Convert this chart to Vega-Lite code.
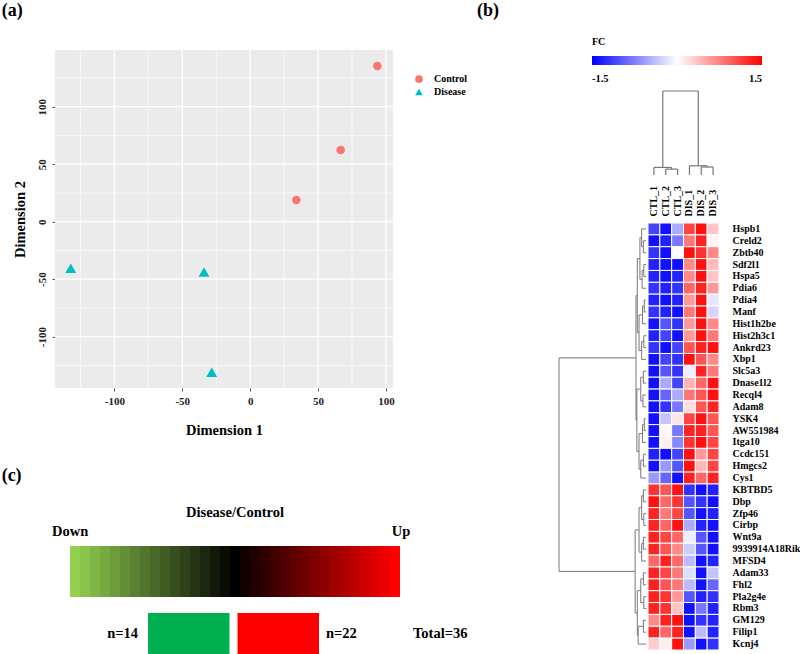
{
"$schema": "https://vega.github.io/schema/vega-lite/v6.json",
"width": 800, "height": 654, "autosize": {"type": "none"}, "padding": 0,
"background": "white",
"config": {"view": {"stroke": null}, "font": "Liberation Serif", "text": {"font": "Liberation Serif", "fontWeight": "bold", "color": "black"}},
"resolve": {"scale": {"x": "independent", "y": "independent", "color": "independent", "shape": "independent"}, "axis": {"x": "independent", "y": "independent"}, "legend": {"color": "independent", "shape": "independent"}},
"layer": [
{
 "layer": [
  {"data": {"values": [{}]}, "mark": {"type": "rect", "color": "#EBEBEB"},
   "encoding": {"x": {"datum": -143.7, "type": "quantitative", "scale": {"domain": [-143.7, 105.2], "range": [55, 393], "nice": false, "zero": false}}, "x2": {"datum": 105.2},
                "y": {"datum": -144.6, "type": "quantitative", "scale": {"domain": [-144.6, 149.3], "range": [388, 50], "nice": false, "zero": false}}, "y2": {"datum": 149.3}}},
  {"data": {"values": [{"v": -125}, {"v": -75}, {"v": -25}, {"v": 25}, {"v": 75}]}, "mark": {"type": "rule", "color": "white", "strokeWidth": 0.6},
   "encoding": {"x": {"field": "v", "type": "quantitative", "scale": {"domain": [-143.7, 105.2], "range": [55, 393], "nice": false, "zero": false}},
                "y": {"datum": -144.6, "type": "quantitative", "scale": {"domain": [-144.6, 149.3], "range": [388, 50], "nice": false, "zero": false}}, "y2": {"datum": 149.3}}},
  {"data": {"values": [{"v": -125}, {"v": -75}, {"v": -25}, {"v": 25}, {"v": 75}, {"v": 125}]}, "mark": {"type": "rule", "color": "white", "strokeWidth": 0.6},
   "encoding": {"y": {"field": "v", "type": "quantitative", "scale": {"domain": [-144.6, 149.3], "range": [388, 50], "nice": false, "zero": false}},
                "x": {"datum": -143.7, "type": "quantitative", "scale": {"domain": [-143.7, 105.2], "range": [55, 393], "nice": false, "zero": false}}, "x2": {"datum": 105.2}}},
  {"data": {"values": [{"v": -100}, {"v": -50}, {"v": 0}, {"v": 50}, {"v": 100}]}, "mark": {"type": "rule", "color": "white", "strokeWidth": 1.3},
   "encoding": {"x": {"field": "v", "type": "quantitative", "scale": {"domain": [-143.7, 105.2], "range": [55, 393], "nice": false, "zero": false}},
                "y": {"datum": -144.6, "type": "quantitative", "scale": {"domain": [-144.6, 149.3], "range": [388, 50], "nice": false, "zero": false}}, "y2": {"datum": 149.3}}},
  {"data": {"values": [{"v": -100}, {"v": -50}, {"v": 0}, {"v": 50}, {"v": 100}]}, "mark": {"type": "rule", "color": "white", "strokeWidth": 1.3},
   "encoding": {"y": {"field": "v", "type": "quantitative", "scale": {"domain": [-144.6, 149.3], "range": [388, 50], "nice": false, "zero": false}},
                "x": {"datum": -143.7, "type": "quantitative", "scale": {"domain": [-143.7, 105.2], "range": [55, 393], "nice": false, "zero": false}}, "x2": {"datum": 105.2}}},
  {"data": {"values": [{"group": "Control", "d1": 93.7, "d2": 135.4}, {"group": "Control", "d1": 66.7, "d2": 62.3}, {"group": "Control", "d1": 34, "d2": 18.9}, {"group": "Disease", "d1": -132.1, "d2": -40.5}, {"group": "Disease", "d1": -34, "d2": -43.7}, {"group": "Disease", "d1": -28.3, "d2": -131}]},
   "transform": [{"filter": "datum.group === 'Control'"}],
   "mark": {"type": "point", "filled": true, "opacity": 1, "size": 72},
   "encoding": {
    "x": {"field": "d1", "type": "quantitative", "scale": {"domain": [-143.7, 105.2], "range": [55, 393], "nice": false, "zero": false},
          "axis": {"orient": "bottom", "offset": -266, "values": [-100, -50, 0, 50, 100], "grid": false, "domain": false, "ticks": true, "tickSize": 3, "tickColor": "#555", "labelExpr": "(datum.value < 0 ? '-' : '') + abs(datum.value)", "labelFont": "Liberation Serif", "labelFontWeight": "bold", "labelFontSize": 11, "labelColor": "#222", "labelPadding": 4, "title": "Dimension 1", "titleFont": "Liberation Serif", "titleFontWeight": "bold", "titleFontSize": 14.5, "titleColor": "black", "titlePadding": 17}},
    "y": {"field": "d2", "type": "quantitative", "scale": {"domain": [-144.6, 149.3], "range": [388, 50], "nice": false, "zero": false},
          "axis": {"orient": "left", "offset": -55, "values": [-100, -50, 0, 50, 100], "grid": false, "domain": false, "ticks": true, "tickSize": 3, "tickColor": "#555", "labelExpr": "(datum.value < 0 ? '-' : '') + abs(datum.value)", "labelAngle": -90, "labelAlign": "center", "labelBaseline": "bottom", "labelFont": "Liberation Serif", "labelFontWeight": "bold", "labelFontSize": 11, "labelColor": "#222", "labelPadding": 5, "title": "Dimension 2", "titleFont": "Liberation Serif", "titleFontWeight": "bold", "titleFontSize": 14.5, "titleColor": "black", "titlePadding": 9}},
    "color": {"field": "group", "type": "nominal", "scale": {"domain": ["Control", "Disease"], "range": ["#F8766D", "#00BFC4"]},
              "legend": {"orient": "none", "legendX": 414, "legendY": 74, "title": null, "labelFont": "Liberation Serif", "labelFontWeight": "bold", "labelFontSize": 10, "labelColor": "black", "symbolSize": 60, "rowPadding": 3, "labelOffset": 10, "padding": 0}},
    "shape": {"field": "group", "type": "nominal", "scale": {"domain": ["Control", "Disease"], "range": ["circle", "triangle-up"]}}
   }},
  {"data": {"values": [{"group": "Control", "d1": 93.7, "d2": 135.4}, {"group": "Control", "d1": 66.7, "d2": 62.3}, {"group": "Control", "d1": 34, "d2": 18.9}, {"group": "Disease", "d1": -132.1, "d2": -40.5}, {"group": "Disease", "d1": -34, "d2": -43.7}, {"group": "Disease", "d1": -28.3, "d2": -131}]},
   "transform": [{"filter": "datum.group === 'Disease'"}],
   "mark": {"type": "point", "filled": true, "opacity": 1, "size": 120},
   "encoding": {
    "x": {"field": "d1", "type": "quantitative", "scale": {"domain": [-143.7, 105.2], "range": [55, 393], "nice": false, "zero": false}},
    "y": {"field": "d2", "type": "quantitative", "scale": {"domain": [-144.6, 149.3], "range": [388, 50], "nice": false, "zero": false}},
    "color": {"field": "group", "type": "nominal", "scale": {"domain": ["Control", "Disease"], "range": ["#F8766D", "#00BFC4"]}},
    "shape": {"field": "group", "type": "nominal", "scale": {"domain": ["Control", "Disease"], "range": ["circle", "triangle-up"]}}
   }},
  {"data": {"values": [{}]}, "mark": {"type": "text", "text": "(a)", "fontSize": 18, "align": "left", "baseline": "middle"},
   "encoding": {"x": {"datum": -183, "type": "quantitative", "scale": {"domain": [-143.7, 105.2], "range": [55, 393], "nice": false, "zero": false}},
                "y": {"datum": 183, "type": "quantitative", "scale": {"domain": [-144.6, 149.3], "range": [388, 50], "nice": false, "zero": false}}}},
  {"data": {"values": [{}]}, "mark": {"type": "text", "text": "(b)", "fontSize": 18, "align": "left", "baseline": "middle"},
   "encoding": {"x": {"datum": 167, "type": "quantitative", "scale": {"domain": [-143.7, 105.2], "range": [55, 393], "nice": false, "zero": false}},
                "y": {"datum": 183, "type": "quantitative", "scale": {"domain": [-144.6, 149.3], "range": [388, 50], "nice": false, "zero": false}}}},
  {"data": {"values": [{}]}, "mark": {"type": "text", "text": "(c)", "fontSize": 18, "align": "left", "baseline": "middle"},
   "encoding": {"x": {"datum": -183, "type": "quantitative", "scale": {"domain": [-143.7, 105.2], "range": [55, 393], "nice": false, "zero": false}},
                "y": {"datum": -221, "type": "quantitative", "scale": {"domain": [-144.6, 149.3], "range": [388, 50], "nice": false, "zero": false}}}}
 ]
},
{
 "data": {"values": [
{"g":"Hspb1","s":"CTL_1","v":-1.1},{"g":"Hspb1","s":"CTL_2","v":-1.4},{"g":"Hspb1","s":"CTL_3","v":-0.5},{"g":"Hspb1","s":"DIS_1","v":1.1},{"g":"Hspb1","s":"DIS_2","v":1.4},{"g":"Hspb1","s":"DIS_3","v":0.35},
{"g":"Creld2","s":"CTL_1","v":-1.4},{"g":"Creld2","s":"CTL_2","v":-1.3},{"g":"Creld2","s":"CTL_3","v":-0.8},{"g":"Creld2","s":"DIS_1","v":0.8},{"g":"Creld2","s":"DIS_2","v":1.3},{"g":"Creld2","s":"DIS_3","v":0.05},
{"g":"Zbtb40","s":"CTL_1","v":-1.2},{"g":"Zbtb40","s":"CTL_2","v":-1.4},{"g":"Zbtb40","s":"CTL_3","v":0.0},{"g":"Zbtb40","s":"DIS_1","v":1.4},{"g":"Zbtb40","s":"DIS_2","v":1.2},{"g":"Zbtb40","s":"DIS_3","v":0.7},
{"g":"Sdf2l1","s":"CTL_1","v":-1.3},{"g":"Sdf2l1","s":"CTL_2","v":-1.4},{"g":"Sdf2l1","s":"CTL_3","v":-1.4},{"g":"Sdf2l1","s":"DIS_1","v":0.7},{"g":"Sdf2l1","s":"DIS_2","v":1.4},{"g":"Sdf2l1","s":"DIS_3","v":0.4},
{"g":"Hspa5","s":"CTL_1","v":-1.3},{"g":"Hspa5","s":"CTL_2","v":-1.4},{"g":"Hspa5","s":"CTL_3","v":-1.3},{"g":"Hspa5","s":"DIS_1","v":0.7},{"g":"Hspa5","s":"DIS_2","v":1.4},{"g":"Hspa5","s":"DIS_3","v":0.35},
{"g":"Pdia6","s":"CTL_1","v":-1.2},{"g":"Pdia6","s":"CTL_2","v":-1.3},{"g":"Pdia6","s":"CTL_3","v":-1.2},{"g":"Pdia6","s":"DIS_1","v":0.9},{"g":"Pdia6","s":"DIS_2","v":1.3},{"g":"Pdia6","s":"DIS_3","v":0.6},
{"g":"Pdia4","s":"CTL_1","v":-1.3},{"g":"Pdia4","s":"CTL_2","v":-1.4},{"g":"Pdia4","s":"CTL_3","v":-1.3},{"g":"Pdia4","s":"DIS_1","v":0.6},{"g":"Pdia4","s":"DIS_2","v":1.4},{"g":"Pdia4","s":"DIS_3","v":-0.15},
{"g":"Manf","s":"CTL_1","v":-1.2},{"g":"Manf","s":"CTL_2","v":-1.3},{"g":"Manf","s":"CTL_3","v":-1.4},{"g":"Manf","s":"DIS_1","v":0.8},{"g":"Manf","s":"DIS_2","v":1.4},{"g":"Manf","s":"DIS_3","v":-0.25},
{"g":"Hist1h2be","s":"CTL_1","v":-1.4},{"g":"Hist1h2be","s":"CTL_2","v":-1.0},{"g":"Hist1h2be","s":"CTL_3","v":-1.2},{"g":"Hist1h2be","s":"DIS_1","v":0.6},{"g":"Hist1h2be","s":"DIS_2","v":1.4},{"g":"Hist1h2be","s":"DIS_3","v":0.7},
{"g":"Hist2h3c1","s":"CTL_1","v":-1.3},{"g":"Hist2h3c1","s":"CTL_2","v":-1.1},{"g":"Hist2h3c1","s":"CTL_3","v":-1.4},{"g":"Hist2h3c1","s":"DIS_1","v":0.6},{"g":"Hist2h3c1","s":"DIS_2","v":1.4},{"g":"Hist2h3c1","s":"DIS_3","v":0.8},
{"g":"Ankrd23","s":"CTL_1","v":-1.2},{"g":"Ankrd23","s":"CTL_2","v":-1.4},{"g":"Ankrd23","s":"CTL_3","v":-1.1},{"g":"Ankrd23","s":"DIS_1","v":1.0},{"g":"Ankrd23","s":"DIS_2","v":1.3},{"g":"Ankrd23","s":"DIS_3","v":1.4},
{"g":"Xbp1","s":"CTL_1","v":-1.4},{"g":"Xbp1","s":"CTL_2","v":-1.1},{"g":"Xbp1","s":"CTL_3","v":-1.2},{"g":"Xbp1","s":"DIS_1","v":1.4},{"g":"Xbp1","s":"DIS_2","v":1.0},{"g":"Xbp1","s":"DIS_3","v":0.7},
{"g":"Slc5a3","s":"CTL_1","v":-1.4},{"g":"Slc5a3","s":"CTL_2","v":-1.0},{"g":"Slc5a3","s":"CTL_3","v":-1.2},{"g":"Slc5a3","s":"DIS_1","v":-0.1},{"g":"Slc5a3","s":"DIS_2","v":1.3},{"g":"Slc5a3","s":"DIS_3","v":0.8},
{"g":"Dnase1l2","s":"CTL_1","v":-1.4},{"g":"Dnase1l2","s":"CTL_2","v":-0.5},{"g":"Dnase1l2","s":"CTL_3","v":-1.1},{"g":"Dnase1l2","s":"DIS_1","v":0.45},{"g":"Dnase1l2","s":"DIS_2","v":0.9},{"g":"Dnase1l2","s":"DIS_3","v":1.4},
{"g":"Recql4","s":"CTL_1","v":-1.4},{"g":"Recql4","s":"CTL_2","v":-0.9},{"g":"Recql4","s":"CTL_3","v":-0.5},{"g":"Recql4","s":"DIS_1","v":0.8},{"g":"Recql4","s":"DIS_2","v":1.0},{"g":"Recql4","s":"DIS_3","v":1.4},
{"g":"Adam8","s":"CTL_1","v":-1.4},{"g":"Adam8","s":"CTL_2","v":-1.2},{"g":"Adam8","s":"CTL_3","v":-0.8},{"g":"Adam8","s":"DIS_1","v":0.2},{"g":"Adam8","s":"DIS_2","v":1.0},{"g":"Adam8","s":"DIS_3","v":1.3},
{"g":"YSK4","s":"CTL_1","v":-1.4},{"g":"YSK4","s":"CTL_2","v":-0.35},{"g":"YSK4","s":"CTL_3","v":0.15},{"g":"YSK4","s":"DIS_1","v":1.1},{"g":"YSK4","s":"DIS_2","v":1.4},{"g":"YSK4","s":"DIS_3","v":1.0},
{"g":"AW551984","s":"CTL_1","v":-1.4},{"g":"AW551984","s":"CTL_2","v":0.05},{"g":"AW551984","s":"CTL_3","v":-0.8},{"g":"AW551984","s":"DIS_1","v":1.3},{"g":"AW551984","s":"DIS_2","v":1.3},{"g":"AW551984","s":"DIS_3","v":1.0},
{"g":"Itga10","s":"CTL_1","v":-1.4},{"g":"Itga10","s":"CTL_2","v":0.1},{"g":"Itga10","s":"CTL_3","v":-0.7},{"g":"Itga10","s":"DIS_1","v":1.2},{"g":"Itga10","s":"DIS_2","v":1.4},{"g":"Itga10","s":"DIS_3","v":1.1},
{"g":"Ccdc151","s":"CTL_1","v":-1.3},{"g":"Ccdc151","s":"CTL_2","v":-1.4},{"g":"Ccdc151","s":"CTL_3","v":-1.1},{"g":"Ccdc151","s":"DIS_1","v":1.4},{"g":"Ccdc151","s":"DIS_2","v":0.6},{"g":"Ccdc151","s":"DIS_3","v":1.1},
{"g":"Hmgcs2","s":"CTL_1","v":-1.4},{"g":"Hmgcs2","s":"CTL_2","v":-0.6},{"g":"Hmgcs2","s":"CTL_3","v":-1.0},{"g":"Hmgcs2","s":"DIS_1","v":1.4},{"g":"Hmgcs2","s":"DIS_2","v":0.4},{"g":"Hmgcs2","s":"DIS_3","v":1.1},
{"g":"Cys1","s":"CTL_1","v":-0.6},{"g":"Cys1","s":"CTL_2","v":-0.9},{"g":"Cys1","s":"CTL_3","v":-1.4},{"g":"Cys1","s":"DIS_1","v":1.3},{"g":"Cys1","s":"DIS_2","v":0.9},{"g":"Cys1","s":"DIS_3","v":1.3},
{"g":"KBTBD5","s":"CTL_1","v":1.2},{"g":"KBTBD5","s":"CTL_2","v":1.0},{"g":"KBTBD5","s":"CTL_3","v":1.4},{"g":"KBTBD5","s":"DIS_1","v":-1.2},{"g":"KBTBD5","s":"DIS_2","v":-1.4},{"g":"KBTBD5","s":"DIS_3","v":-1.3},
{"g":"Dbp","s":"CTL_1","v":1.4},{"g":"Dbp","s":"CTL_2","v":0.9},{"g":"Dbp","s":"CTL_3","v":1.2},{"g":"Dbp","s":"DIS_1","v":-1.0},{"g":"Dbp","s":"DIS_2","v":-1.2},{"g":"Dbp","s":"DIS_3","v":-1.4},
{"g":"Zfp46","s":"CTL_1","v":1.3},{"g":"Zfp46","s":"CTL_2","v":0.8},{"g":"Zfp46","s":"CTL_3","v":1.1},{"g":"Zfp46","s":"DIS_1","v":-1.0},{"g":"Zfp46","s":"DIS_2","v":-1.4},{"g":"Zfp46","s":"DIS_3","v":-1.3},
{"g":"Cirbp","s":"CTL_1","v":1.3},{"g":"Cirbp","s":"CTL_2","v":0.9},{"g":"Cirbp","s":"CTL_3","v":1.4},{"g":"Cirbp","s":"DIS_1","v":-0.5},{"g":"Cirbp","s":"DIS_2","v":-1.3},{"g":"Cirbp","s":"DIS_3","v":-1.4},
{"g":"Wnt9a","s":"CTL_1","v":1.3},{"g":"Wnt9a","s":"CTL_2","v":1.1},{"g":"Wnt9a","s":"CTL_3","v":0.9},{"g":"Wnt9a","s":"DIS_1","v":-0.1},{"g":"Wnt9a","s":"DIS_2","v":-1.0},{"g":"Wnt9a","s":"DIS_3","v":-1.4},
{"g":"9939914A18Rik","s":"CTL_1","v":1.3},{"g":"9939914A18Rik","s":"CTL_2","v":1.0},{"g":"9939914A18Rik","s":"CTL_3","v":0.7},{"g":"9939914A18Rik","s":"DIS_1","v":-0.3},{"g":"9939914A18Rik","s":"DIS_2","v":-1.0},{"g":"9939914A18Rik","s":"DIS_3","v":-1.4},
{"g":"MFSD4","s":"CTL_1","v":0.9},{"g":"MFSD4","s":"CTL_2","v":1.3},{"g":"MFSD4","s":"CTL_3","v":0.9},{"g":"MFSD4","s":"DIS_1","v":-0.4},{"g":"MFSD4","s":"DIS_2","v":-1.4},{"g":"MFSD4","s":"DIS_3","v":-1.3},
{"g":"Adam33","s":"CTL_1","v":1.3},{"g":"Adam33","s":"CTL_2","v":1.1},{"g":"Adam33","s":"CTL_3","v":0.8},{"g":"Adam33","s":"DIS_1","v":-0.2},{"g":"Adam33","s":"DIS_2","v":-1.4},{"g":"Adam33","s":"DIS_3","v":-0.35},
{"g":"Fhl2","s":"CTL_1","v":1.3},{"g":"Fhl2","s":"CTL_2","v":1.0},{"g":"Fhl2","s":"CTL_3","v":0.8},{"g":"Fhl2","s":"DIS_1","v":-0.4},{"g":"Fhl2","s":"DIS_2","v":-1.4},{"g":"Fhl2","s":"DIS_3","v":-0.9},
{"g":"Pla2g4e","s":"CTL_1","v":1.3},{"g":"Pla2g4e","s":"CTL_2","v":1.2},{"g":"Pla2g4e","s":"CTL_3","v":0.6},{"g":"Pla2g4e","s":"DIS_1","v":-1.0},{"g":"Pla2g4e","s":"DIS_2","v":-1.3},{"g":"Pla2g4e","s":"DIS_3","v":-1.2},
{"g":"Rbm3","s":"CTL_1","v":1.3},{"g":"Rbm3","s":"CTL_2","v":1.2},{"g":"Rbm3","s":"CTL_3","v":0.35},{"g":"Rbm3","s":"DIS_1","v":-1.4},{"g":"Rbm3","s":"DIS_2","v":-0.8},{"g":"Rbm3","s":"DIS_3","v":-1.3},
{"g":"GM129","s":"CTL_1","v":0.7},{"g":"GM129","s":"CTL_2","v":1.3},{"g":"GM129","s":"CTL_3","v":1.4},{"g":"GM129","s":"DIS_1","v":-1.4},{"g":"GM129","s":"DIS_2","v":-1.2},{"g":"GM129","s":"DIS_3","v":-1.3},
{"g":"Filip1","s":"CTL_1","v":1.3},{"g":"Filip1","s":"CTL_2","v":0.9},{"g":"Filip1","s":"CTL_3","v":1.3},{"g":"Filip1","s":"DIS_1","v":-1.4},{"g":"Filip1","s":"DIS_2","v":-0.4},{"g":"Filip1","s":"DIS_3","v":-1.3},
{"g":"Kcnj4","s":"CTL_1","v":0.3},{"g":"Kcnj4","s":"CTL_2","v":0.1},{"g":"Kcnj4","s":"CTL_3","v":1.4},{"g":"Kcnj4","s":"DIS_1","v":-0.6},{"g":"Kcnj4","s":"DIS_2","v":-1.4},{"g":"Kcnj4","s":"DIS_3","v":-1.2}
 ]},
 "mark": {"type": "rect", "stroke": "white", "strokeWidth": 1},
 "encoding": {
  "x": {"field": "s", "type": "ordinal", "sort": null, "scale": {"range": [648, 719], "paddingInner": 0, "paddingOuter": 0},
        "axis": {"orient": "top", "offset": -219, "title": null, "ticks": false, "domain": false, "labelAngle": -90, "labelAlign": "left", "labelBaseline": "middle", "labelFont": "Liberation Serif", "labelFontWeight": "bold", "labelFontSize": 10, "labelColor": "black", "labelPadding": 3}},
  "y": {"field": "g", "type": "ordinal", "sort": null, "scale": {"range": [223, 650], "paddingInner": 0, "paddingOuter": 0},
        "axis": {"orient": "right", "offset": -79, "title": null, "ticks": false, "domain": false, "labelFont": "Liberation Serif", "labelFontWeight": "bold", "labelFontSize": 10, "labelColor": "black", "labelPadding": 11, "labelLimit": 200}},
  "color": {"field": "v", "type": "quantitative", "scale": {"domain": [-1.5, 0, 1.5], "range": ["#0000FF", "#FFFFFF", "#FF0000"], "interpolate": "rgb"},
            "legend": {"orient": "none", "legendX": 592, "legendY": 37, "direction": "horizontal", "title": "FC", "titleFont": "Liberation Serif", "titleFontWeight": "bold", "titleFontSize": 10, "titleColor": "black", "titlePadding": 9, "gradientLength": 170, "gradientThickness": 9, "gradientStrokeWidth": 0, "values": [-1.5, 1.5], "labelExpr": "(datum.value < 0 ? '-' : '') + format(abs(datum.value), '.1f')", "labelFont": "Liberation Serif", "labelFontWeight": "bold", "labelFontSize": 10.5, "labelColor": "black", "labelOffset": 9, "padding": 0}}
 }
},
{
 "data": {"values": [
  {"pa": 1, "pb": 2, "ha": 0, "hb": 0, "h": 7},
  {"pa": 0, "pb": 1.5, "ha": 0, "hb": 7, "h": 9},
  {"pa": 4, "pb": 5, "ha": 0, "hb": 0, "h": 9.5},
  {"pa": 3, "pb": 4.5, "ha": 0, "hb": 9.5, "h": 11},
  {"pa": 0.75, "pb": 3.75, "ha": 9, "hb": 11, "h": 100}
 ]},
 "layer": [
  {"mark": {"type": "rule", "color": "#777", "strokeWidth": 1.2},
   "encoding": {"x": {"field": "pa", "type": "quantitative", "scale": {"domain": [-0.5, 5.5], "range": [648, 719], "nice": false, "zero": false}, "axis": null},
                "y": {"field": "ha", "type": "quantitative", "scale": {"domain": [0, 100], "range": [175, 91], "nice": false, "zero": false}, "axis": null}, "y2": {"field": "h"}}},
  {"mark": {"type": "rule", "color": "#777", "strokeWidth": 1.2},
   "encoding": {"x": {"field": "pb", "type": "quantitative", "scale": {"domain": [-0.5, 5.5], "range": [648, 719], "nice": false, "zero": false}, "axis": null},
                "y": {"field": "hb", "type": "quantitative", "scale": {"domain": [0, 100], "range": [175, 91], "nice": false, "zero": false}, "axis": null}, "y2": {"field": "h"}}},
  {"mark": {"type": "rule", "color": "#777", "strokeWidth": 1.2},
   "encoding": {"x": {"field": "pa", "type": "quantitative", "scale": {"domain": [-0.5, 5.5], "range": [648, 719], "nice": false, "zero": false}, "axis": null}, "x2": {"field": "pb"},
                "y": {"field": "h", "type": "quantitative", "scale": {"domain": [0, 100], "range": [175, 91], "nice": false, "zero": false}, "axis": null}}}
 ]
},
{
 "data": {"values": [
  {"pa": 1, "pb": 2, "ha": 0, "hb": 0, "h": 3},
  {"pa": 0, "pb": 1.5, "ha": 0, "hb": 3, "h": 5},
  {"pa": 3, "pb": 4, "ha": 0, "hb": 0, "h": 2.5},
  {"pa": 3.5, "pb": 5, "ha": 2.5, "hb": 0, "h": 4.5},
  {"pa": 0.75, "pb": 4.25, "ha": 5, "hb": 4.5, "h": 7},
  {"pa": 6, "pb": 7, "ha": 0, "hb": 0, "h": 2},
  {"pa": 6.5, "pb": 8, "ha": 2, "hb": 0, "h": 4},
  {"pa": 9, "pb": 10, "ha": 0, "hb": 0, "h": 2.5},
  {"pa": 9.5, "pb": 11, "ha": 2.5, "hb": 0, "h": 5},
  {"pa": 7.25, "pb": 10.25, "ha": 4, "hb": 5, "h": 8},
  {"pa": 2.5, "pb": 8.75, "ha": 7, "hb": 8, "h": 10},
  {"pa": 12, "pb": 13, "ha": 0, "hb": 0, "h": 3},
  {"pa": 14, "pb": 15, "ha": 0, "hb": 0, "h": 3.5},
  {"pa": 12.5, "pb": 14.5, "ha": 3, "hb": 3.5, "h": 6},
  {"pa": 16, "pb": 17, "ha": 0, "hb": 0, "h": 2},
  {"pa": 16.5, "pb": 18, "ha": 2, "hb": 0, "h": 4},
  {"pa": 19, "pb": 20, "ha": 0, "hb": 0, "h": 3},
  {"pa": 19.5, "pb": 21, "ha": 3, "hb": 0, "h": 6},
  {"pa": 17.25, "pb": 20.25, "ha": 4, "hb": 6, "h": 8},
  {"pa": 13.5, "pb": 18.75, "ha": 6, "hb": 8, "h": 10.5},
  {"pa": 5.625, "pb": 16.125, "ha": 10, "hb": 10.5, "h": 11.5},
  {"pa": 22, "pb": 23, "ha": 0, "hb": 0, "h": 3},
  {"pa": 24, "pb": 25, "ha": 0, "hb": 0, "h": 2.5},
  {"pa": 22.5, "pb": 24.5, "ha": 3, "hb": 2.5, "h": 5},
  {"pa": 26, "pb": 27, "ha": 0, "hb": 0, "h": 3},
  {"pa": 26.5, "pb": 28, "ha": 3, "hb": 0, "h": 5},
  {"pa": 23.5, "pb": 27.25, "ha": 5, "hb": 5, "h": 8},
  {"pa": 29, "pb": 30, "ha": 0, "hb": 0, "h": 3},
  {"pa": 31, "pb": 32, "ha": 0, "hb": 0, "h": 2.5},
  {"pa": 29.5, "pb": 31.5, "ha": 3, "hb": 2.5, "h": 6},
  {"pa": 33, "pb": 34, "ha": 0, "hb": 0, "h": 3},
  {"pa": 33.5, "pb": 35, "ha": 3, "hb": 0, "h": 9},
  {"pa": 30.5, "pb": 34.25, "ha": 6, "hb": 9, "h": 10},
  {"pa": 25.375, "pb": 32.375, "ha": 8, "hb": 10, "h": 12.5},
  {"pa": 10.875, "pb": 28.875, "ha": 11.5, "hb": 12.5, "h": 100}
 ]},
 "layer": [
  {"mark": {"type": "rule", "color": "#777", "strokeWidth": 1},
   "encoding": {"y": {"field": "pa", "type": "quantitative", "scale": {"domain": [-0.5, 35.5], "range": [223, 650], "nice": false, "zero": false}, "axis": null},
                "x": {"field": "ha", "type": "quantitative", "scale": {"domain": [0, 100], "range": [646, 559], "nice": false, "zero": false}, "axis": null}, "x2": {"field": "h"}}},
  {"mark": {"type": "rule", "color": "#777", "strokeWidth": 1},
   "encoding": {"y": {"field": "pb", "type": "quantitative", "scale": {"domain": [-0.5, 35.5], "range": [223, 650], "nice": false, "zero": false}, "axis": null},
                "x": {"field": "hb", "type": "quantitative", "scale": {"domain": [0, 100], "range": [646, 559], "nice": false, "zero": false}, "axis": null}, "x2": {"field": "h"}}},
  {"mark": {"type": "rule", "color": "#777", "strokeWidth": 1},
   "encoding": {"y": {"field": "pa", "type": "quantitative", "scale": {"domain": [-0.5, 35.5], "range": [223, 650], "nice": false, "zero": false}, "axis": null}, "y2": {"field": "pb"},
                "x": {"field": "h", "type": "quantitative", "scale": {"domain": [0, 100], "range": [646, 559], "nice": false, "zero": false}, "axis": null}}}
 ]
},
{
 "resolve": {"scale": {"x": "independent", "color": "independent"}},
 "layer": [
  {"layer": [
    {"data": {"values": [{"level": -16}, {"level": -15}, {"level": -14}, {"level": -13}, {"level": -12}, {"level": -11}, {"level": -10}, {"level": -9}, {"level": -8}, {"level": -7}, {"level": -6}, {"level": -5}, {"level": -4}, {"level": -3}, {"level": -2}, {"level": -1}, {"level": 0}, {"level": 1}, {"level": 2}, {"level": 3}, {"level": 4}, {"level": 5}, {"level": 6}, {"level": 7}, {"level": 8}, {"level": 9}, {"level": 10}, {"level": 11}, {"level": 12}, {"level": 13}, {"level": 14}, {"level": 15}, {"level": 16}]},
     "mark": {"type": "rect"},
     "encoding": {
      "x": {"field": "level", "type": "ordinal", "sort": null, "scale": {"range": [70, 400], "paddingInner": 0, "paddingOuter": 0}, "axis": null},
      "y": {"datum": "gradient", "type": "ordinal", "scale": {"domain": ["gradient", "count"], "range": [546, 664], "paddingInner": 0.239, "paddingOuter": 0}, "axis": null},
      "color": {"field": "level", "type": "quantitative", "scale": {"domain": [-16, 0, 16], "range": ["#92D050", "#000000", "#FF0000"], "interpolate": "rgb"}, "legend": null}
     }},
    {"data": {"values": [{}]}, "mark": {"type": "text", "text": "Disease/Control", "fontSize": 14.5, "align": "center", "baseline": "middle", "dy": -33},
     "encoding": {"x": {"datum": 0, "type": "ordinal", "bandPosition": 0.5, "axis": null}, "y": {"datum": "gradient", "type": "ordinal", "bandPosition": 0, "axis": null}}},
    {"data": {"values": [{}]}, "mark": {"type": "text", "text": "Down", "fontSize": 14.5, "align": "left", "baseline": "middle", "dx": -18, "dy": -14},
     "encoding": {"x": {"datum": -16, "type": "ordinal", "bandPosition": 0, "axis": null}, "y": {"datum": "gradient", "type": "ordinal", "bandPosition": 0, "axis": null}}},
    {"data": {"values": [{}]}, "mark": {"type": "text", "text": "Up", "fontSize": 14.5, "align": "center", "baseline": "middle", "dx": 1, "dy": -14},
     "encoding": {"x": {"datum": 16, "type": "ordinal", "bandPosition": 1, "axis": null}, "y": {"datum": "gradient", "type": "ordinal", "bandPosition": 0, "axis": null}}}
  ]},
  {"layer": [
    {"data": {"values": [{"dir": "Down", "n": 14}, {"dir": "Up", "n": 22}]},
     "mark": {"type": "rect"},
     "encoding": {
      "x": {"field": "dir", "type": "nominal", "scale": {"domain": ["Down", "Up"], "range": [148, 319], "paddingInner": 0.09, "paddingOuter": 0}, "axis": null},
      "y": {"datum": "count", "type": "ordinal", "axis": null},
      "color": {"field": "dir", "type": "nominal", "scale": {"domain": ["Down", "Up"], "range": ["#00B050", "#FF0000"]}, "legend": null}
     }},
    {"data": {"values": [{}]}, "mark": {"type": "text", "text": "n=14", "fontSize": 14.5, "align": "right", "baseline": "middle", "dx": -10, "dy": 21},
     "encoding": {"x": {"datum": "Down", "type": "nominal", "bandPosition": 0, "axis": null}, "y": {"datum": "count", "type": "ordinal", "bandPosition": 0, "axis": null}}},
    {"data": {"values": [{}]}, "mark": {"type": "text", "text": "n=22", "fontSize": 14.5, "align": "left", "baseline": "middle", "dx": 7, "dy": 21},
     "encoding": {"x": {"datum": "Up", "type": "nominal", "bandPosition": 1, "axis": null}, "y": {"datum": "count", "type": "ordinal", "bandPosition": 0, "axis": null}}},
    {"data": {"values": [{}]}, "mark": {"type": "text", "text": "Total=36", "fontSize": 14.5, "align": "left", "baseline": "middle", "dx": 94, "dy": 21},
     "encoding": {"x": {"datum": "Up", "type": "nominal", "bandPosition": 1, "axis": null}, "y": {"datum": "count", "type": "ordinal", "bandPosition": 0, "axis": null}}}
  ]}
 ]
}
]
}
